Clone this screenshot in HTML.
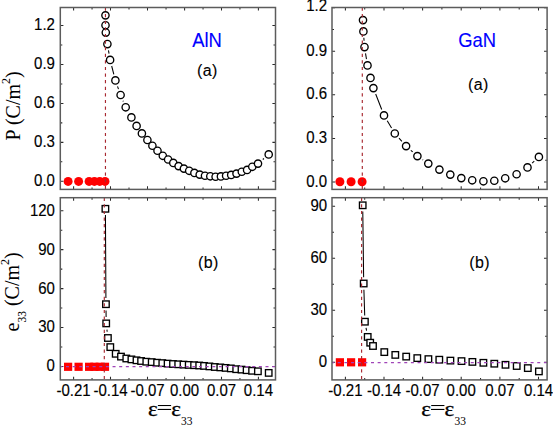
<!DOCTYPE html>
<html><head><meta charset="utf-8"><style>
html,body{margin:0;padding:0;background:#fff;}
svg{display:block;}
.t{font-family:"Liberation Sans",sans-serif;font-size:15px;fill:#000;stroke:#000;stroke-width:0.15px;}
.lab{font-family:"Liberation Sans",sans-serif;font-size:18.4px;fill:#0000ff;stroke:#0000ff;stroke-width:0.12px;}
.ab{font-family:"Liberation Sans",sans-serif;font-size:16px;fill:#000;stroke:#000;stroke-width:0.1px;letter-spacing:0.45px;}
.s{font-family:"Liberation Serif",serif;font-size:20px;fill:#000;}
.se{stroke:#000;stroke-width:0.3px;}
.sub{font-family:"Liberation Serif",serif;font-size:11.5px;}
.sup{font-family:"Liberation Serif",serif;font-size:12px;}
</style></head><body>
<svg width="553" height="425" viewBox="0 0 553 425">
<rect width="553" height="425" fill="#fff"/>
<path d="M108.46 50.31L109.04 53.69M111.68 66L113.82 74.3M117.51 86.33L118.49 89.07M123.01 100.82L123.29 101.48M262.78 159.49L263.92 158.51" fill="none" stroke="#000" stroke-width="1.05"/>
<circle cx="68.1" cy="181.4" r="4.5" fill="#f00"/>
<circle cx="78.6" cy="181.4" r="4.5" fill="#f00"/>
<circle cx="89.1" cy="181.4" r="4.5" fill="#f00"/>
<circle cx="94.4" cy="181.4" r="4.5" fill="#f00"/>
<circle cx="99.7" cy="181.4" r="4.5" fill="#f00"/>
<circle cx="105" cy="181.4" r="4.5" fill="#f00"/>
<circle cx="105.45" cy="15.35" r="3.65" fill="#fff" stroke="#000" stroke-width="1.35"/>
<circle cx="105.5" cy="25.2" r="3.65" fill="#fff" stroke="#000" stroke-width="1.35"/>
<circle cx="105.8" cy="32.6" r="3.65" fill="#fff" stroke="#000" stroke-width="1.35"/>
<circle cx="107.4" cy="44.1" r="3.65" fill="#fff" stroke="#000" stroke-width="1.35"/>
<circle cx="110.1" cy="59.9" r="3.65" fill="#fff" stroke="#000" stroke-width="1.35"/>
<circle cx="115.4" cy="80.4" r="3.65" fill="#fff" stroke="#000" stroke-width="1.35"/>
<circle cx="120.6" cy="95" r="3.65" fill="#fff" stroke="#000" stroke-width="1.35"/>
<circle cx="125.7" cy="107.3" r="3.65" fill="#fff" stroke="#000" stroke-width="1.35"/>
<circle cx="131.4" cy="117.4" r="3.65" fill="#fff" stroke="#000" stroke-width="1.35"/>
<circle cx="136.6" cy="125.9" r="3.65" fill="#fff" stroke="#000" stroke-width="1.35"/>
<circle cx="141.9" cy="133.4" r="3.65" fill="#fff" stroke="#000" stroke-width="1.35"/>
<circle cx="147.4" cy="140" r="3.65" fill="#fff" stroke="#000" stroke-width="1.35"/>
<circle cx="152.4" cy="145.7" r="3.65" fill="#fff" stroke="#000" stroke-width="1.35"/>
<circle cx="157.5" cy="150.7" r="3.65" fill="#fff" stroke="#000" stroke-width="1.35"/>
<circle cx="162.8" cy="155.8" r="3.65" fill="#fff" stroke="#000" stroke-width="1.35"/>
<circle cx="168.1" cy="159.5" r="3.65" fill="#fff" stroke="#000" stroke-width="1.35"/>
<circle cx="173.3" cy="162.9" r="3.65" fill="#fff" stroke="#000" stroke-width="1.35"/>
<circle cx="178.6" cy="166.1" r="3.65" fill="#fff" stroke="#000" stroke-width="1.35"/>
<circle cx="183.9" cy="168.6" r="3.65" fill="#fff" stroke="#000" stroke-width="1.35"/>
<circle cx="189.2" cy="170.8" r="3.65" fill="#fff" stroke="#000" stroke-width="1.35"/>
<circle cx="194.4" cy="172.9" r="3.65" fill="#fff" stroke="#000" stroke-width="1.35"/>
<circle cx="199.7" cy="174.6" r="3.65" fill="#fff" stroke="#000" stroke-width="1.35"/>
<circle cx="205" cy="175.7" r="3.65" fill="#fff" stroke="#000" stroke-width="1.35"/>
<circle cx="210.3" cy="176.3" r="3.65" fill="#fff" stroke="#000" stroke-width="1.35"/>
<circle cx="215.6" cy="176.7" r="3.65" fill="#fff" stroke="#000" stroke-width="1.35"/>
<circle cx="220.9" cy="176.4" r="3.65" fill="#fff" stroke="#000" stroke-width="1.35"/>
<circle cx="226.1" cy="175.7" r="3.65" fill="#fff" stroke="#000" stroke-width="1.35"/>
<circle cx="231.2" cy="174.9" r="3.65" fill="#fff" stroke="#000" stroke-width="1.35"/>
<circle cx="236.5" cy="173.6" r="3.65" fill="#fff" stroke="#000" stroke-width="1.35"/>
<circle cx="241.8" cy="171.7" r="3.65" fill="#fff" stroke="#000" stroke-width="1.35"/>
<circle cx="247.1" cy="169.9" r="3.65" fill="#fff" stroke="#000" stroke-width="1.35"/>
<circle cx="252.3" cy="166.8" r="3.65" fill="#fff" stroke="#000" stroke-width="1.35"/>
<circle cx="258" cy="163.6" r="3.65" fill="#fff" stroke="#000" stroke-width="1.35"/>
<circle cx="268.7" cy="154.4" r="3.65" fill="#fff" stroke="#000" stroke-width="1.35"/>
<path d="M73.6 189.4v-3.1M73.6 7.5v3.1M110.5 189.4v-3.1M110.5 7.5v3.1M147.5 189.4v-3.1M147.5 7.5v3.1M184.6 189.4v-3.1M184.6 7.5v3.1M221.5 189.4v-3.1M221.5 7.5v3.1M258.4 189.4v-3.1M258.4 7.5v3.1M92.05 189.4v-2.0M92.05 7.5v2.0M129 189.4v-2.0M129 7.5v2.0M166.05 189.4v-2.0M166.05 7.5v2.0M203.05 189.4v-2.0M203.05 7.5v2.0M239.95 189.4v-2.0M239.95 7.5v2.0" stroke="#2a2a2a" stroke-width="1.05" fill="none"/>
<path d="M60.3 181.3h3.1M275.5 181.3h-3.1M60.3 142.35h3.1M275.5 142.35h-3.1M60.3 103.4h3.1M275.5 103.4h-3.1M60.3 64.45h3.1M275.5 64.45h-3.1M60.3 25.5h3.1M275.5 25.5h-3.1M60.3 161.82h2.0M275.5 161.82h-2.0M60.3 122.88h2.0M275.5 122.88h-2.0M60.3 83.93h2.0M275.5 83.93h-2.0M60.3 44.98h2.0M275.5 44.98h-2.0" stroke="#2a2a2a" stroke-width="1.05" fill="none"/>
<line x1="105.45" y1="7.5" x2="105.45" y2="189.4" stroke="#a82830" stroke-width="1.15" stroke-dasharray="3.2 3.4"/>
<rect x="60.3" y="7.5" width="215.2" height="181.9" fill="none" stroke="#5c5c5c" stroke-width="1.5"/>
<text transform="translate(54.9,186.2) scale(1,1.14)" text-anchor="end" class="t">0.0</text>
<text transform="translate(54.9,147.25) scale(1,1.14)" text-anchor="end" class="t">0.3</text>
<text transform="translate(54.9,108.3) scale(1,1.14)" text-anchor="end" class="t">0.6</text>
<text transform="translate(54.9,69.35) scale(1,1.14)" text-anchor="end" class="t">0.9</text>
<text transform="translate(54.9,30.4) scale(1,1.14)" text-anchor="end" class="t">1.2</text>
<path d="M105.44 215.1L105.91 297.9M106.03 310.5L106.12 317.1M106.93 329.66L107.17 331.74" fill="none" stroke="#000" stroke-width="1.05"/>
<rect x="64" y="362.7" width="8.2" height="8.2" fill="#f00"/>
<rect x="74.5" y="362.7" width="8.2" height="8.2" fill="#f00"/>
<rect x="85" y="362.7" width="8.2" height="8.2" fill="#f00"/>
<rect x="90.3" y="362.7" width="8.2" height="8.2" fill="#f00"/>
<rect x="95.6" y="362.7" width="8.2" height="8.2" fill="#f00"/>
<rect x="100.9" y="362.7" width="8.2" height="8.2" fill="#f00"/>
<rect x="102.15" y="205.55" width="6.5" height="6.5" fill="#fff" stroke="#000" stroke-width="1.35"/>
<rect x="102.7" y="300.95" width="6.5" height="6.5" fill="#fff" stroke="#000" stroke-width="1.35"/>
<rect x="102.95" y="320.15" width="6.5" height="6.5" fill="#fff" stroke="#000" stroke-width="1.35"/>
<rect x="104.65" y="334.75" width="6.5" height="6.5" fill="#fff" stroke="#000" stroke-width="1.35"/>
<rect x="107.05" y="343.85" width="6.5" height="6.5" fill="#fff" stroke="#000" stroke-width="1.35"/>
<rect x="112.45" y="350.55" width="6.5" height="6.5" fill="#fff" stroke="#000" stroke-width="1.35"/>
<rect x="117.75" y="353.35" width="6.5" height="6.5" fill="#fff" stroke="#000" stroke-width="1.35"/>
<rect x="123.05" y="355.25" width="6.5" height="6.5" fill="#fff" stroke="#000" stroke-width="1.35"/>
<rect x="128.15" y="356.15" width="6.5" height="6.5" fill="#fff" stroke="#000" stroke-width="1.35"/>
<rect x="133.25" y="357.05" width="6.5" height="6.5" fill="#fff" stroke="#000" stroke-width="1.35"/>
<rect x="137.85" y="357.75" width="6.5" height="6.5" fill="#fff" stroke="#000" stroke-width="1.35"/>
<rect x="143.05" y="358.45" width="6.5" height="6.5" fill="#fff" stroke="#000" stroke-width="1.35"/>
<rect x="148.45" y="358.85" width="6.5" height="6.5" fill="#fff" stroke="#000" stroke-width="1.35"/>
<rect x="153.85" y="359.45" width="6.5" height="6.5" fill="#fff" stroke="#000" stroke-width="1.35"/>
<rect x="159.05" y="359.85" width="6.5" height="6.5" fill="#fff" stroke="#000" stroke-width="1.35"/>
<rect x="164.35" y="360.35" width="6.5" height="6.5" fill="#fff" stroke="#000" stroke-width="1.35"/>
<rect x="169.75" y="360.75" width="6.5" height="6.5" fill="#fff" stroke="#000" stroke-width="1.35"/>
<rect x="174.95" y="361.05" width="6.5" height="6.5" fill="#fff" stroke="#000" stroke-width="1.35"/>
<rect x="180.25" y="361.35" width="6.5" height="6.5" fill="#fff" stroke="#000" stroke-width="1.35"/>
<rect x="185.45" y="361.65" width="6.5" height="6.5" fill="#fff" stroke="#000" stroke-width="1.35"/>
<rect x="190.85" y="361.95" width="6.5" height="6.5" fill="#fff" stroke="#000" stroke-width="1.35"/>
<rect x="195.95" y="362.25" width="6.5" height="6.5" fill="#fff" stroke="#000" stroke-width="1.35"/>
<rect x="200.85" y="362.65" width="6.5" height="6.5" fill="#fff" stroke="#000" stroke-width="1.35"/>
<rect x="206.15" y="363.15" width="6.5" height="6.5" fill="#fff" stroke="#000" stroke-width="1.35"/>
<rect x="211.55" y="363.75" width="6.5" height="6.5" fill="#fff" stroke="#000" stroke-width="1.35"/>
<rect x="217.05" y="364.15" width="6.5" height="6.5" fill="#fff" stroke="#000" stroke-width="1.35"/>
<rect x="222.35" y="364.65" width="6.5" height="6.5" fill="#fff" stroke="#000" stroke-width="1.35"/>
<rect x="227.55" y="365.15" width="6.5" height="6.5" fill="#fff" stroke="#000" stroke-width="1.35"/>
<rect x="232.95" y="365.95" width="6.5" height="6.5" fill="#fff" stroke="#000" stroke-width="1.35"/>
<rect x="238.25" y="366.35" width="6.5" height="6.5" fill="#fff" stroke="#000" stroke-width="1.35"/>
<rect x="243.35" y="366.95" width="6.5" height="6.5" fill="#fff" stroke="#000" stroke-width="1.35"/>
<rect x="248.85" y="367.55" width="6.5" height="6.5" fill="#fff" stroke="#000" stroke-width="1.35"/>
<rect x="254.65" y="368.05" width="6.5" height="6.5" fill="#fff" stroke="#000" stroke-width="1.35"/>
<rect x="265.45" y="369.65" width="6.5" height="6.5" fill="#fff" stroke="#000" stroke-width="1.35"/>
<path d="M73.6 379.9v-3.1M73.6 197.7v3.1M110.5 379.9v-3.1M110.5 197.7v3.1M147.5 379.9v-3.1M147.5 197.7v3.1M184.6 379.9v-3.1M184.6 197.7v3.1M221.5 379.9v-3.1M221.5 197.7v3.1M258.4 379.9v-3.1M258.4 197.7v3.1M92.05 379.9v-2.0M92.05 197.7v2.0M129 379.9v-2.0M129 197.7v2.0M166.05 379.9v-2.0M166.05 197.7v2.0M203.05 379.9v-2.0M203.05 197.7v2.0M239.95 379.9v-2.0M239.95 197.7v2.0" stroke="#2a2a2a" stroke-width="1.05" fill="none"/>
<path d="M60.3 366.4h3.1M275.5 366.4h-3.1M60.3 327.5h3.1M275.5 327.5h-3.1M60.3 288.6h3.1M275.5 288.6h-3.1M60.3 249.6h3.1M275.5 249.6h-3.1M60.3 210.7h3.1M275.5 210.7h-3.1M60.3 346.95h2.0M275.5 346.95h-2.0M60.3 308.05h2.0M275.5 308.05h-2.0M60.3 269.1h2.0M275.5 269.1h-2.0M60.3 230.15h2.0M275.5 230.15h-2.0" stroke="#2a2a2a" stroke-width="1.05" fill="none"/>
<line x1="104.3" y1="197.7" x2="104.3" y2="379.9" stroke="#a82830" stroke-width="1.15" stroke-dasharray="3.2 3.4"/>
<line x1="60.3" y1="366.6" x2="275.5" y2="366.6" stroke="#a044b8" stroke-width="1.25" stroke-dasharray="3 3.65" stroke-dashoffset="0.95"/>
<rect x="60.3" y="197.7" width="215.2" height="182.2" fill="none" stroke="#5c5c5c" stroke-width="1.5"/>
<text transform="translate(54.9,371.3) scale(1,1.14)" text-anchor="end" class="t">0</text>
<text transform="translate(54.9,332.4) scale(1,1.14)" text-anchor="end" class="t">30</text>
<text transform="translate(54.9,293.5) scale(1,1.14)" text-anchor="end" class="t">60</text>
<text transform="translate(54.9,254.5) scale(1,1.14)" text-anchor="end" class="t">90</text>
<text transform="translate(54.9,215.6) scale(1,1.14)" text-anchor="end" class="t">120</text>
<text transform="translate(73.6,395.6) scale(1,1.14)" text-anchor="middle" class="t">-0.21</text>
<text transform="translate(110.5,395.6) scale(1,1.14)" text-anchor="middle" class="t">-0.14</text>
<text transform="translate(147.5,395.6) scale(1,1.14)" text-anchor="middle" class="t">-0.07</text>
<text transform="translate(184.6,395.6) scale(1,1.14)" text-anchor="middle" class="t">0.00</text>
<text transform="translate(221.5,395.6) scale(1,1.14)" text-anchor="middle" class="t">0.07</text>
<text transform="translate(258.4,395.6) scale(1,1.14)" text-anchor="middle" class="t">0.14</text>
<path d="M363.84 37.68L364.06 40.82M365.52 53.32L366.48 59.18M375.68 93.97L381.72 109.53M387.23 120.81L391.57 128.09M399.01 138.19L401.89 141.41M410.82 150.28L412.68 151.92M422.59 159.67L423.11 160.03M532.13 163.13L534.27 161.17" fill="none" stroke="#000" stroke-width="1.05"/>
<circle cx="339.9" cy="181.8" r="4.5" fill="#f00"/>
<circle cx="351.1" cy="181.8" r="4.5" fill="#f00"/>
<circle cx="362.1" cy="181.8" r="4.5" fill="#f00"/>
<circle cx="363" cy="20.1" r="3.65" fill="#fff" stroke="#000" stroke-width="1.35"/>
<circle cx="363.4" cy="31.4" r="3.65" fill="#fff" stroke="#000" stroke-width="1.35"/>
<circle cx="364.5" cy="47.1" r="3.65" fill="#fff" stroke="#000" stroke-width="1.35"/>
<circle cx="367.5" cy="65.4" r="3.65" fill="#fff" stroke="#000" stroke-width="1.35"/>
<circle cx="370.5" cy="77.9" r="3.65" fill="#fff" stroke="#000" stroke-width="1.35"/>
<circle cx="373.4" cy="88.1" r="3.65" fill="#fff" stroke="#000" stroke-width="1.35"/>
<circle cx="384" cy="115.4" r="3.65" fill="#fff" stroke="#000" stroke-width="1.35"/>
<circle cx="394.8" cy="133.5" r="3.65" fill="#fff" stroke="#000" stroke-width="1.35"/>
<circle cx="406.1" cy="146.1" r="3.65" fill="#fff" stroke="#000" stroke-width="1.35"/>
<circle cx="417.4" cy="156.1" r="3.65" fill="#fff" stroke="#000" stroke-width="1.35"/>
<circle cx="428.3" cy="163.6" r="3.65" fill="#fff" stroke="#000" stroke-width="1.35"/>
<circle cx="439.4" cy="169.6" r="3.65" fill="#fff" stroke="#000" stroke-width="1.35"/>
<circle cx="450.3" cy="174.6" r="3.65" fill="#fff" stroke="#000" stroke-width="1.35"/>
<circle cx="461.3" cy="178.1" r="3.65" fill="#fff" stroke="#000" stroke-width="1.35"/>
<circle cx="472.2" cy="180.3" r="3.65" fill="#fff" stroke="#000" stroke-width="1.35"/>
<circle cx="483.4" cy="181.3" r="3.65" fill="#fff" stroke="#000" stroke-width="1.35"/>
<circle cx="494.3" cy="180.7" r="3.65" fill="#fff" stroke="#000" stroke-width="1.35"/>
<circle cx="505.2" cy="178.3" r="3.65" fill="#fff" stroke="#000" stroke-width="1.35"/>
<circle cx="516.6" cy="174.2" r="3.65" fill="#fff" stroke="#000" stroke-width="1.35"/>
<circle cx="527.5" cy="167.4" r="3.65" fill="#fff" stroke="#000" stroke-width="1.35"/>
<circle cx="538.9" cy="156.9" r="3.65" fill="#fff" stroke="#000" stroke-width="1.35"/>
<path d="M345.4 189.4v-3.1M345.4 7.5v3.1M384 189.4v-3.1M384 7.5v3.1M422.6 189.4v-3.1M422.6 7.5v3.1M461.2 189.4v-3.1M461.2 7.5v3.1M499.9 189.4v-3.1M499.9 7.5v3.1M538.5 189.4v-3.1M538.5 7.5v3.1M364.7 189.4v-2.0M364.7 7.5v2.0M403.3 189.4v-2.0M403.3 7.5v2.0M441.9 189.4v-2.0M441.9 7.5v2.0M480.55 189.4v-2.0M480.55 7.5v2.0M519.2 189.4v-2.0M519.2 7.5v2.0" stroke="#2a2a2a" stroke-width="1.05" fill="none"/>
<path d="M332 182h3.1M547.1 182h-3.1M332 138.4h3.1M547.1 138.4h-3.1M332 94.8h3.1M547.1 94.8h-3.1M332 51.2h3.1M547.1 51.2h-3.1M332 7.6h3.1M547.1 7.6h-3.1M332 160.2h2.0M547.1 160.2h-2.0M332 116.6h2.0M547.1 116.6h-2.0M332 73h2.0M547.1 73h-2.0M332 29.4h2.0M547.1 29.4h-2.0" stroke="#2a2a2a" stroke-width="1.05" fill="none"/>
<line x1="362.3" y1="7.5" x2="362.3" y2="189.4" stroke="#a82830" stroke-width="1.15" stroke-dasharray="3.2 3.4"/>
<rect x="332" y="7.5" width="215.1" height="181.9" fill="none" stroke="#5c5c5c" stroke-width="1.5"/>
<text transform="translate(327.1,186.5) scale(1,1.14)" text-anchor="end" class="t">0.0</text>
<text transform="translate(327.1,142.9) scale(1,1.14)" text-anchor="end" class="t">0.3</text>
<text transform="translate(327.1,99.3) scale(1,1.14)" text-anchor="end" class="t">0.6</text>
<text transform="translate(327.1,55.7) scale(1,1.14)" text-anchor="end" class="t">0.9</text>
<text transform="translate(327.1,11.2) scale(1,1.14)" text-anchor="end" class="t">1.2</text>
<path d="M362.78 211.6L363.62 277.2M363.9 289.8L364.7 315.4M366.04 327.9L366.56 330.7" fill="none" stroke="#000" stroke-width="1.05"/>
<rect x="335.8" y="358.2" width="8.2" height="8.2" fill="#f00"/>
<rect x="347" y="358.2" width="8.2" height="8.2" fill="#f00"/>
<rect x="358" y="358.2" width="8.2" height="8.2" fill="#f00"/>
<rect x="359.45" y="202.05" width="6.5" height="6.5" fill="#fff" stroke="#000" stroke-width="1.35"/>
<rect x="360.45" y="280.25" width="6.5" height="6.5" fill="#fff" stroke="#000" stroke-width="1.35"/>
<rect x="361.65" y="318.45" width="6.5" height="6.5" fill="#fff" stroke="#000" stroke-width="1.35"/>
<rect x="364.45" y="333.65" width="6.5" height="6.5" fill="#fff" stroke="#000" stroke-width="1.35"/>
<rect x="366.95" y="339.45" width="6.5" height="6.5" fill="#fff" stroke="#000" stroke-width="1.35"/>
<rect x="369.75" y="342.75" width="6.5" height="6.5" fill="#fff" stroke="#000" stroke-width="1.35"/>
<rect x="381.05" y="348.85" width="6.5" height="6.5" fill="#fff" stroke="#000" stroke-width="1.35"/>
<rect x="392.05" y="351.65" width="6.5" height="6.5" fill="#fff" stroke="#000" stroke-width="1.35"/>
<rect x="402.95" y="353.35" width="6.5" height="6.5" fill="#fff" stroke="#000" stroke-width="1.35"/>
<rect x="414.05" y="354.85" width="6.5" height="6.5" fill="#fff" stroke="#000" stroke-width="1.35"/>
<rect x="425.15" y="355.85" width="6.5" height="6.5" fill="#fff" stroke="#000" stroke-width="1.35"/>
<rect x="436.05" y="356.45" width="6.5" height="6.5" fill="#fff" stroke="#000" stroke-width="1.35"/>
<rect x="447.15" y="357.35" width="6.5" height="6.5" fill="#fff" stroke="#000" stroke-width="1.35"/>
<rect x="458.25" y="357.85" width="6.5" height="6.5" fill="#fff" stroke="#000" stroke-width="1.35"/>
<rect x="469.15" y="358.65" width="6.5" height="6.5" fill="#fff" stroke="#000" stroke-width="1.35"/>
<rect x="480.15" y="359.55" width="6.5" height="6.5" fill="#fff" stroke="#000" stroke-width="1.35"/>
<rect x="491.05" y="360.45" width="6.5" height="6.5" fill="#fff" stroke="#000" stroke-width="1.35"/>
<rect x="502.25" y="361.55" width="6.5" height="6.5" fill="#fff" stroke="#000" stroke-width="1.35"/>
<rect x="513.45" y="362.75" width="6.5" height="6.5" fill="#fff" stroke="#000" stroke-width="1.35"/>
<rect x="524.55" y="364.85" width="6.5" height="6.5" fill="#fff" stroke="#000" stroke-width="1.35"/>
<rect x="535.65" y="368.15" width="6.5" height="6.5" fill="#fff" stroke="#000" stroke-width="1.35"/>
<path d="M345.4 379.9v-3.1M345.4 197.7v3.1M384 379.9v-3.1M384 197.7v3.1M422.6 379.9v-3.1M422.6 197.7v3.1M461.2 379.9v-3.1M461.2 197.7v3.1M499.9 379.9v-3.1M499.9 197.7v3.1M538.5 379.9v-3.1M538.5 197.7v3.1M364.7 379.9v-2.0M364.7 197.7v2.0M403.3 379.9v-2.0M403.3 197.7v2.0M441.9 379.9v-2.0M441.9 197.7v2.0M480.55 379.9v-2.0M480.55 197.7v2.0M519.2 379.9v-2.0M519.2 197.7v2.0" stroke="#2a2a2a" stroke-width="1.05" fill="none"/>
<path d="M332 362.3h3.1M547.1 362.3h-3.1M332 310.2h3.1M547.1 310.2h-3.1M332 258.2h3.1M547.1 258.2h-3.1M332 206.2h3.1M547.1 206.2h-3.1M332 336.25h2.0M547.1 336.25h-2.0M332 284.2h2.0M547.1 284.2h-2.0M332 232.2h2.0M547.1 232.2h-2.0" stroke="#2a2a2a" stroke-width="1.05" fill="none"/>
<line x1="361.6" y1="197.7" x2="361.6" y2="379.9" stroke="#a82830" stroke-width="1.15" stroke-dasharray="3.2 3.4"/>
<line x1="332" y1="362.6" x2="547.1" y2="362.6" stroke="#a044b8" stroke-width="1.25" stroke-dasharray="3 3.65" stroke-dashoffset="0.9"/>
<rect x="332" y="197.7" width="215.1" height="182.2" fill="none" stroke="#5c5c5c" stroke-width="1.5"/>
<text transform="translate(327.1,367.2) scale(1,1.14)" text-anchor="end" class="t">0</text>
<text transform="translate(327.1,315.1) scale(1,1.14)" text-anchor="end" class="t">30</text>
<text transform="translate(327.1,263.1) scale(1,1.14)" text-anchor="end" class="t">60</text>
<text transform="translate(327.1,211.1) scale(1,1.14)" text-anchor="end" class="t">90</text>
<text transform="translate(345.4,395.6) scale(1,1.14)" text-anchor="middle" class="t">-0.21</text>
<text transform="translate(384,395.6) scale(1,1.14)" text-anchor="middle" class="t">-0.14</text>
<text transform="translate(422.6,395.6) scale(1,1.14)" text-anchor="middle" class="t">-0.07</text>
<text transform="translate(461.2,395.6) scale(1,1.14)" text-anchor="middle" class="t">0.00</text>
<text transform="translate(499.9,395.6) scale(1,1.14)" text-anchor="middle" class="t">0.07</text>
<text transform="translate(538.5,395.6) scale(1,1.14)" text-anchor="middle" class="t">0.14</text>
<text transform="translate(192.2,46.8) scale(1,1.05)" class="lab">AlN</text>
<text transform="translate(458.2,46.8) scale(1,1.05)" class="lab">GaN</text>
<text x="196.9" y="76.2" class="ab">(a)</text>
<text x="467.9" y="89.8" class="ab">(a)</text>
<text x="197.9" y="268" class="ab">(b)</text>
<text x="469.2" y="268.4" class="ab">(b)</text>
<g transform="translate(147.9,415.8)"><text x="0" y="0" class="s se" transform="scale(1.15,1)">ε</text><rect x="10" y="-10.8" width="13.2" height="1.05" fill="#000"/><rect x="9.8" y="-6.9" width="13.4" height="1.1" fill="#000"/><text x="20.2" y="0" class="s se" transform="scale(1.15,1)">ε</text><text x="33.2" y="9.4" class="sub">33</text></g>
<g transform="translate(421.2,415.8)"><text x="0" y="0" class="s se" transform="scale(1.15,1)">ε</text><rect x="10" y="-10.8" width="13.2" height="1.05" fill="#000"/><rect x="9.8" y="-6.9" width="13.4" height="1.1" fill="#000"/><text x="20.2" y="0" class="s se" transform="scale(1.15,1)">ε</text><text x="33.2" y="9.4" class="sub">33</text></g>
<text transform="translate(20,140.5) rotate(-90)" class="s">P (C/m<tspan class="sup" dy="-10.3">2</tspan><tspan dy="10.3">)</tspan></text>
<text transform="translate(19,331.5) rotate(-90)" class="s">e<tspan class="sub" dy="6.5">33</tspan><tspan dy="-6.5"> (C/m</tspan><tspan class="sup" dy="-10.3">2</tspan><tspan dy="10.3">)</tspan></text>
</svg></body></html>
